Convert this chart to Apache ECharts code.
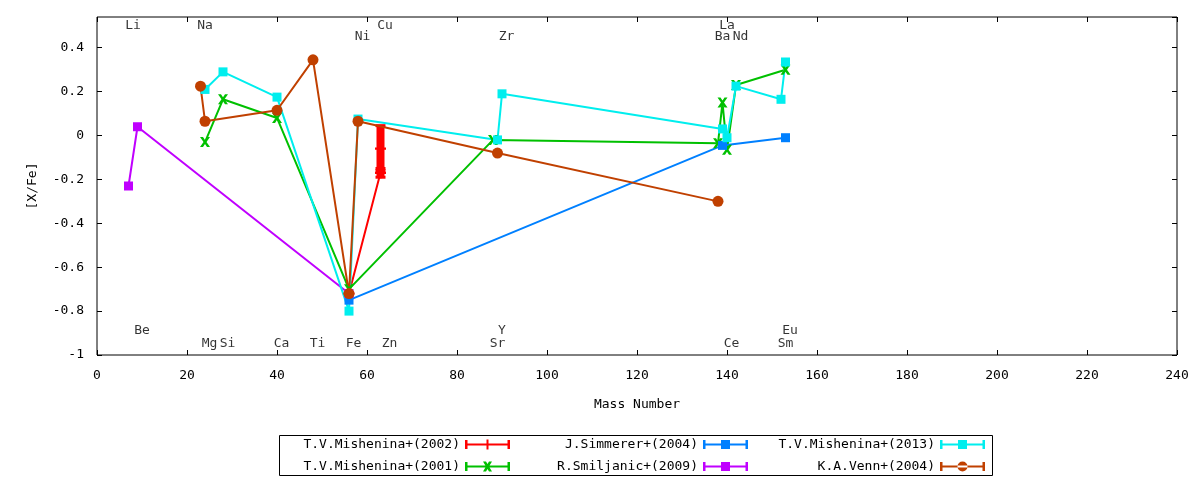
<!DOCTYPE html>
<html>
<head>
<meta charset="utf-8">
<script src="https://cdn.jsdelivr.net/npm/echarts@6/dist/echarts.min.js"></script>
<style>
  html, body { margin: 0; padding: 0; background: #fff; }
  #chart { width: 1200px; height: 480px; }
</style>
</head>
<body>
<div id="chart"></div>
<script>
// element markers along the top and bottom of the plot
const elementNames = ["Li", "Be", "Na", "Mg", "Si", "Ca", "Ti", "Fe", "Ni", "Cu", "Zn", "Sr", "Y", "Zr", "Ba", "La", "Ce", "Nd", "Sm", "Eu"];
const elementMass  = [7, 9, 23, 24, 28, 40, 48, 56, 58, 63, 64, 88, 89, 90, 138, 139, 140, 142, 152, 153];
const elementLabelY = [0.5, -0.89, 0.5, -0.95, -0.95, -0.95, -0.95, -0.95, 0.45, 0.5, -0.95, -0.95, -0.89, 0.45, 0.45, 0.5, -0.95, 0.45, -0.95, -0.89];

// T.V.Mishenina+(2002)
const mish2002Mass = [56, 63, 63];
const mish2002Val  = [-0.72, -0.17, -0.06];
const mish2002Err  = [[-0.72, -0.72], [-0.19, -0.15], [-0.16, 0.045]];

// T.V.Mishenina+(2001)
const mish2001Mass = [24, 28, 40, 56, 88, 138, 139, 140, 142, 153];
const mish2001Val  = [-0.03, 0.165, 0.08, -0.70, -0.02, -0.035, 0.15, -0.065, 0.23, 0.30];

// J.Simmerer+(2004)
const simmMass = [56, 139, 153];
const simmVal  = [-0.75, -0.045, -0.01];

// R.Smiljanic+(2009)
const smilMass = [7, 9, 56];
const smilVal  = [-0.23, 0.04, -0.72];

// T.V.Mishenina+(2013)
const mish2013Mass = [24, 28, 40, 56, 58, 89, 90, 139, 140, 142, 152, 153];
const mish2013Val  = [0.21, 0.29, 0.175, -0.80, 0.075, -0.02, 0.19, 0.03, -0.01, 0.225, 0.165, 0.335];

// K.A.Venn+(2004)
const vennMass = [23, 24, 40, 48, 56, 58, 89, 138];
const vennVal  = [0.225, 0.065, 0.115, 0.345, -0.72, 0.065, -0.08, -0.30];

const xTicks = { min: 0, max: 240, interval: 20 };
const yTicks = { min: -1, max: 0.54, interval: 0.2 };

const FONT = "DejaVu Sans Mono";
const pair = (xs, ys) => xs.map((x, i) => [x, ys[i]]);

// legend icons: line with error-bar caps and the marker in the middle
const base = "M0,4.5h45v2h-45z M0,1h2.5v9h-2.5z M42.5,1h2.5v9h-2.5z ";
const icons = {
  plus:   base + "M21.5,0.5h2v10h-2z M17.5,4.5h10v2h-10z",
  cross:  base + "M18,0.5h3l1.5,2.5l1.5,-2.5h3l-3,5l3,5h-3l-1.5,-2.5l-1.5,2.5h-3l3,-5z",
  square: base + "M18,1h9v9h-9z",
  circle: base + "M17.5,5.5a5,5 0 1,0 10,0a5,5 0 1,0 -10,0z"
};

const seriesDefs = [
  { name: "T.V.Mishenina+(2002)", color: "#ff0000", mass: mish2002Mass, val: mish2002Val,
    symbol: "path://M4,0h2v10h-2z M0,4h10v2h-10z", size: 11, icon: icons.plus },
  { name: "T.V.Mishenina+(2001)", color: "#00c000", mass: mish2001Mass, val: mish2001Val,
    symbol: "path://M0,0h3l2,3l2,-3h3l-3.5,5l3.5,5h-3l-2,-3l-2,3h-3l3.5,-5z", size: 10, icon: icons.cross },
  { name: "J.Simmerer+(2004)", color: "#0080ff", mass: simmMass, val: simmVal,
    symbol: "rect", size: 9, icon: icons.square },
  { name: "R.Smiljanic+(2009)", color: "#c000ff", mass: smilMass, val: smilVal,
    symbol: "rect", size: 9, icon: icons.square },
  { name: "T.V.Mishenina+(2013)", color: "#00eeee", mass: mish2013Mass, val: mish2013Val,
    symbol: "rect", size: 9, icon: icons.square },
  { name: "K.A.Venn+(2004)", color: "#c04000", mass: vennMass, val: vennVal,
    symbol: "circle", size: 11, icon: icons.circle }
];

const series = [];

seriesDefs.forEach(s => {
  series.push({
    type: "line",
    name: s.name,
    data: pair(s.mass, s.val),
    symbol: s.symbol,
    symbolSize: s.size,
    showAllSymbol: true,
    color: s.color,
    lineStyle: { width: 2, color: s.color },
    itemStyle: { color: s.color },
    emphasis: { disabled: true },
    z: 3
  });
});

// error bars for the 2002 data
series.push({
  type: "custom",
  name: "mish2002-errors",
  color: "#ff0000",
  silent: true,
  data: mish2002Err.map((e, i) => [mish2002Mass[i], e[0], e[1]]),
  encode: { x: 0, y: [1, 2] },
  renderItem(params, api) {
    const lo = api.coord([api.value(0), api.value(1)]);
    const hi = api.coord([api.value(0), api.value(2)]);
    const w = 5;
    const style = { stroke: "#ff0000", lineWidth: 3 };
    return {
      type: "group",
      children: [
        { type: "line", shape: { x1: lo[0], y1: lo[1], x2: hi[0], y2: hi[1] }, style: { stroke: "#ff0000", lineWidth: 8 } },
        { type: "line", shape: { x1: lo[0] - w, y1: lo[1], x2: lo[0] + w, y2: lo[1] }, style },
        { type: "line", shape: { x1: hi[0] - w, y1: hi[1], x2: hi[0] + w, y2: hi[1] }, style }
      ]
    };
  },
  z: 2
});

// element names as text in data coordinates
series.push({
  type: "scatter",
  silent: true,
  data: elementMass.map((m, i) => [m, elementLabelY[i], elementNames[i]]),
  symbolSize: 1,
  itemStyle: { color: "rgba(0,0,0,0)" },
  label: {
    show: true,
    position: "inside",
    offset: [4.5, 0],
    formatter: p => p.data[2],
    color: "#000",
    fontFamily: FONT,
    fontSize: 13
  },
  z: 1
});

const legendCols = [
  [seriesDefs[0], seriesDefs[1]],
  [seriesDefs[2], seriesDefs[3]],
  [seriesDefs[4], seriesDefs[5]]
];
const legendRight = [690, 452, 215];

const tick = { inside: true, length: 5, lineStyle: { color: "#000" } };

const chart = echarts.init(document.getElementById("chart"));
chart.setOption({
  animation: false,
  backgroundColor: "#fff",
  textStyle: { fontFamily: FONT },
  grid: { left: 97, right: 23, top: 17, bottom: 125, show: true, borderColor: "#000", borderWidth: 1 },
  xAxis: [
    {
      type: "value", min: xTicks.min, max: xTicks.max, interval: xTicks.interval,
      name: "Mass Number", nameLocation: "middle", nameGap: 43,
      nameTextStyle: { fontFamily: FONT, fontSize: 13, color: "#000" },
      axisLine: { show: false, onZero: false },
      axisTick: tick,
      axisLabel: { margin: 14, fontFamily: FONT, fontSize: 13, color: "#000" },
      splitLine: { show: false }
    },
    {
      type: "value", position: "top", min: xTicks.min, max: xTicks.max, interval: xTicks.interval,
      axisLine: { show: false, onZero: false },
      axisTick: tick,
      axisLabel: { show: false },
      splitLine: { show: false }
    }
  ],
  yAxis: [
    {
      type: "value", min: yTicks.min, max: yTicks.max, interval: yTicks.interval,
      name: "[X/Fe]", nameLocation: "middle", nameGap: 58,
      nameTextStyle: { fontFamily: FONT, fontSize: 13, color: "#000" },
      axisLine: { show: false, onZero: false },
      axisTick: tick,
      axisLabel: { margin: 13, showMaxLabel: false, fontFamily: FONT, fontSize: 13, color: "#000" },
      splitLine: { show: false }
    },
    {
      type: "value", position: "right", min: yTicks.min, max: yTicks.max, interval: yTicks.interval,
      axisLine: { show: false, onZero: false },
      axisTick: tick,
      axisLabel: { show: false },
      splitLine: { show: false }
    }
  ],
  legend: legendCols.map((col, c) => ({
    orient: "vertical",
    align: "right",
    right: legendRight[c],
    top: 438,
    padding: 0,
    itemWidth: 45,
    itemHeight: 11,
    itemGap: 9,
    selectedMode: false,
    itemStyle: { borderWidth: 0 },
    textStyle: { fontFamily: FONT, fontSize: 13, color: "#000", lineHeight: 11 },
    data: col.map(s => ({ name: s.name, icon: "path://" + s.icon }))
  })),
  graphic: [{
    type: "rect",
    shape: { x: 279.5, y: 435.5, width: 713, height: 40 },
    style: { fill: "none", stroke: "#000", lineWidth: 1 },
    silent: true
  }],
  series
});
</script>
</body>
</html>
